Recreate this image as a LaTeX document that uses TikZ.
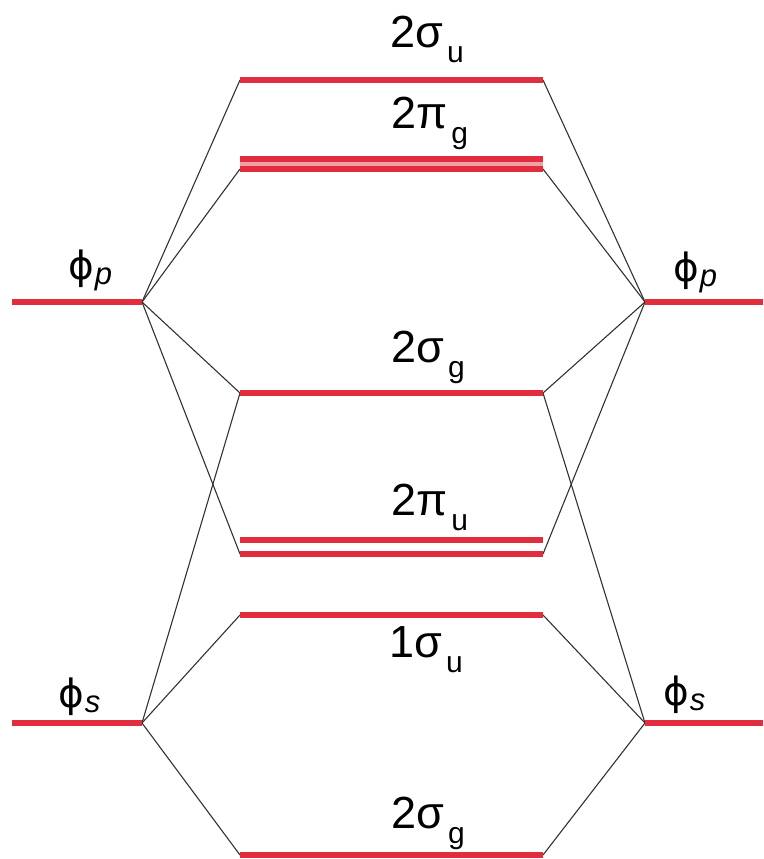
\documentclass[tikz,border=0pt]{standalone}
\usepackage{fontspec}
\setmainfont{Liberation Sans}
\newfontfamily\phifont{DejaVu Sans}
\definecolor{lvlred}{RGB}{225,45,62}
\definecolor{connc}{RGB}{50,50,50}
\newcommand{\molbl}[2]{{\fontsize{45}{50}\selectfont #1\hspace{4pt}\raisebox{-15pt}{\fontsize{30}{32}\selectfont #2}}}
\newcommand{\atlbl}[2]{{\fontsize{39}{42}\selectfont\phifont #1\hspace{1pt}\raisebox{-5pt}{\fontsize{31}{34}\selectfont\rmfamily\itshape #2}}}
\begin{document}
\begin{tikzpicture}[x=1pt,y=-1pt,
  lvl/.style={draw=lvlred,line width=5.5pt},
  lvlthin/.style={draw=lvlred,line width=5.5pt},
  conn/.style={draw=connc,line width=1.1pt},
  lbl/.style={anchor=base west,inner sep=0pt,text=black}]
\useasboundingbox (0,0) rectangle (763,859);
% atomic level ends
\coordinate (pLo) at (12,302);  \coordinate (pL) at (142,302);
\coordinate (pR) at (645,302);  \coordinate (pRo) at (763,302);
\coordinate (sLo) at (12,723);  \coordinate (sL) at (142,723);
\coordinate (sR) at (645,723);  \coordinate (sRo) at (763,723);
% MO level ends
\coordinate (a1) at (240,80);  \coordinate (a2) at (543,80);   % 2sigma_u
\coordinate (b1) at (240,159); \coordinate (b2) at (543,159);  % 2pi_g upper
\coordinate (bm1) at (240,164); \coordinate (bm2) at (543,164); % 2pi_g gap
\coordinate (c1) at (240,169); \coordinate (c2) at (543,169);  % 2pi_g lower
\coordinate (d1) at (240,393); \coordinate (d2) at (543,393);  % 2sigma_g
\coordinate (e1) at (240,540); \coordinate (e2) at (543,540);  % 2pi_u upper
\coordinate (f1) at (240,554); \coordinate (f2) at (543,554);  % 2pi_u lower
\coordinate (g1) at (240,615); \coordinate (g2) at (543,615);  % 1sigma_u
\coordinate (h1) at (240,855); \coordinate (h2) at (543,855);  % 2sigma_g bottom
% connectors
\draw[conn] (pL) -- (a1);
\draw[conn] (pL) -- (c1);
\draw[conn] (pL) -- (d1);
\draw[conn] (pL) -- (f1);
\draw[conn] (sL) -- (d1);
\draw[conn] (sL) -- (g1);
\draw[conn] (sL) -- (h1);
\draw[conn] (pR) -- (a2);
\draw[conn] (pR) -- (c2);
\draw[conn] (pR) -- (d2);
\draw[conn] (pR) -- (f2);
\draw[conn] (sR) -- (d2);
\draw[conn] (sR) -- (g2);
\draw[conn] (sR) -- (h2);
% levels
\draw[lvl] (pLo) -- (pL);
\draw[lvl] (pR) -- (pRo);
\draw[lvl] (sLo) -- (sL);
\draw[lvl] (sR) -- (sRo);
\draw[lvl] (a1) -- (a2);
\draw[draw=lvlred!45,line width=5pt] (bm1) -- (bm2);
\draw[lvlthin] (b1) -- (b2);
\draw[lvlthin] (c1) -- (c2);
\draw[lvl] (d1) -- (d2);
\draw[lvlthin] (e1) -- (e2);
\draw[lvlthin] (f1) -- (f2);
\draw[lvl] (g1) -- (g2);
\draw[lvl] (h1) -- (h2);
% labels
\node[lbl] (la) at (390,48)  {\molbl{2σ}{u}};
\node[lbl] (lb) at (391,128) {\molbl{2π}{g}};
\node[lbl] (ld) at (391,362) {\molbl{2σ}{g}};
\node[lbl] (le) at (391,515) {\molbl{2π}{u}};
\node[lbl] (lg) at (389,657) {\molbl{1σ}{u}};
\node[lbl] (lh) at (391,828) {\molbl{2σ}{g}};
\node[lbl] (lpL) at (68,279)  {\atlbl{ϕ}{p}};
\node[lbl] (lpR) at (673,281) {\atlbl{ϕ}{p}};
\node[lbl] (lsL) at (58,707)  {\atlbl{ϕ}{s}};
\node[lbl] (lsR) at (663,705) {\atlbl{ϕ}{s}};
\end{tikzpicture}
\end{document}
